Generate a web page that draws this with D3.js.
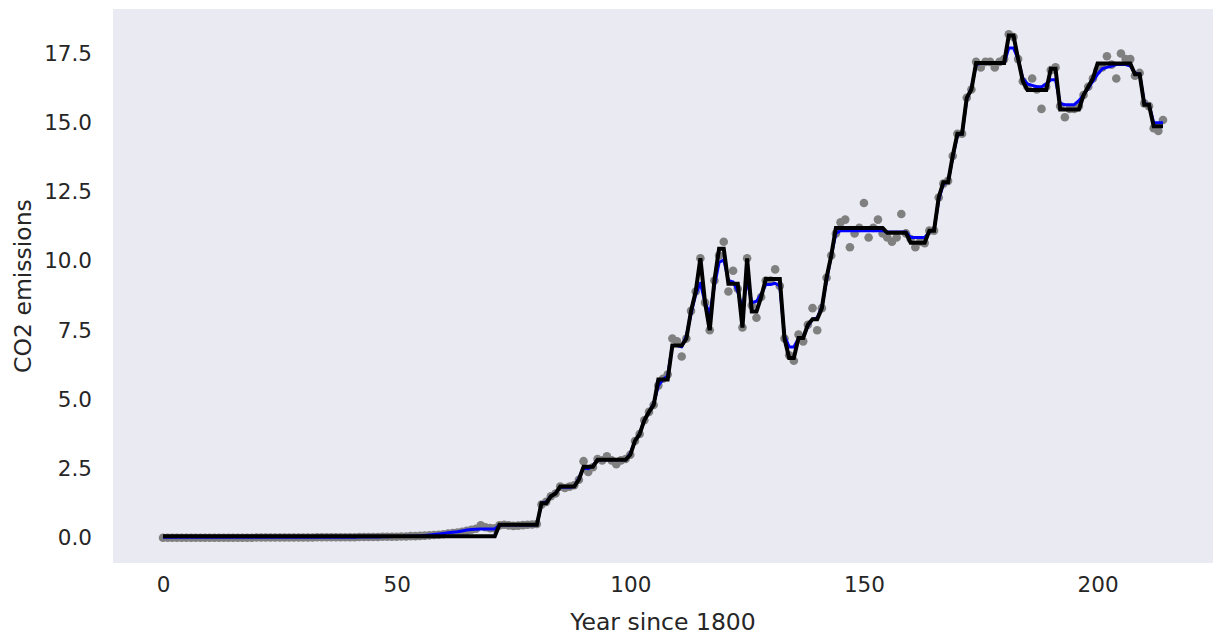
<!DOCTYPE html>
<html>
<head>
<meta charset="utf-8">
<script src="https://cdn.jsdelivr.net/npm/d3@7"></script>
<style>
  html, body { margin: 0; padding: 0; background: #ffffff; }
  svg text { font-family: "DejaVu Sans", sans-serif; fill: #262626; }
</style>
</head>
<body>
<svg id="chart" width="1219" height="635"></svg>
<script>
// Per-capita CO2 emissions, one value per year counted from 1800
const emissions = [
  0.00,0.00,0.00,0.00,0.00,0.00,0.00,0.00,0.00,0.00,
  0.00,0.00,0.00,0.00,0.00,0.00,0.00,0.00,0.00,0.00,
  0.01,0.01,0.01,0.01,0.01,0.01,0.01,0.01,0.01,0.01,
  0.01,0.01,0.01,0.02,0.02,0.02,0.02,0.02,0.02,0.02,
  0.02,0.02,0.03,0.03,0.03,0.03,0.03,0.04,0.04,0.04,
  0.04,0.05,0.05,0.06,0.06,0.07,0.08,0.09,0.10,0.11,
  0.13,0.15,0.17,0.19,0.22,0.25,0.29,0.33,0.45,0.38,
  0.35,0.34,0.45,0.47,0.45,0.43,0.44,0.46,0.47,0.48,
  0.50,1.20,1.30,1.50,1.60,1.85,1.80,1.85,1.90,2.10,
  2.77,2.38,2.55,2.85,2.80,2.95,2.80,2.66,2.80,2.85,
  3.00,3.50,3.75,4.25,4.55,4.80,5.50,5.75,5.90,7.20,
  7.10,6.55,7.20,8.20,8.90,10.10,8.50,7.50,9.30,10.20,
  10.70,8.90,9.65,9.00,7.60,10.10,8.40,7.95,8.70,9.30,
  9.30,9.70,9.10,7.20,6.60,6.40,7.35,7.10,7.70,8.30,
  7.50,8.30,9.40,10.20,11.00,11.40,11.50,10.50,11.00,11.20,
  12.10,10.85,11.20,11.50,11.00,10.85,10.70,10.85,11.70,11.00,
  10.80,10.50,10.70,10.65,11.10,11.10,12.30,12.80,12.90,13.80,
  14.60,14.60,15.90,16.20,17.20,17.00,17.20,17.20,17.00,17.20,
  17.30,18.20,18.10,17.30,16.50,16.30,16.60,16.20,15.50,16.30,
  16.90,17.00,15.60,15.20,15.50,15.50,15.60,16.00,16.30,16.60,
  16.90,17.00,17.40,17.10,16.60,17.50,17.30,17.30,16.70,16.80,
  15.70,15.60,14.80,14.70,15.10
];

// Random-forest prediction for each year
const forestFit = [
  0.02,0.02,0.02,0.02,0.02,0.02,0.02,0.02,0.02,0.02,
  0.02,0.02,0.02,0.02,0.02,0.02,0.02,0.02,0.02,0.02,
  0.02,0.02,0.02,0.02,0.02,0.02,0.02,0.02,0.02,0.02,
  0.02,0.02,0.02,0.02,0.02,0.02,0.02,0.02,0.02,0.02,
  0.02,0.02,0.03,0.03,0.03,0.03,0.03,0.04,0.04,0.05,
  0.05,0.05,0.06,0.06,0.07,0.07,0.08,0.10,0.12,0.14,
  0.16,0.18,0.20,0.22,0.25,0.28,0.30,0.31,0.32,0.32,
  0.32,0.32,0.46,0.46,0.46,0.46,0.46,0.46,0.46,0.46,
  0.47,1.25,1.30,1.50,1.62,1.83,1.83,1.83,1.85,2.15,
  2.55,2.50,2.60,2.82,2.82,2.82,2.82,2.82,2.82,2.82,
  3.05,3.50,3.75,4.25,4.55,4.85,5.50,5.72,5.85,6.95,
  6.95,6.90,7.30,8.10,8.80,9.20,8.50,8.10,9.10,9.95,
  10.05,9.30,9.25,8.90,8.30,9.30,8.50,8.55,8.80,9.15,
  9.15,9.20,9.10,7.30,6.90,6.90,7.20,7.25,7.65,7.90,
  7.95,8.35,9.30,10.20,11.00,11.10,11.10,11.10,11.10,11.10,
  11.10,11.10,11.10,11.10,11.10,11.05,11.05,11.05,11.05,11.05,
  10.85,10.85,10.85,10.85,11.05,11.15,12.20,12.80,12.85,13.75,
  14.55,14.60,15.85,16.25,17.10,17.15,17.15,17.15,17.15,17.15,
  17.15,17.70,17.70,17.30,16.60,16.40,16.35,16.30,16.30,16.40,
  16.55,16.55,15.70,15.65,15.65,15.65,15.80,16.00,16.25,16.50,
  16.75,16.95,17.00,17.05,17.10,17.10,17.10,17.05,16.80,16.75,
  15.70,15.65,15.00,15.00,15.00
];

// Single decision-tree prediction for each year
const treeFit = [
  0.06,0.06,0.06,0.06,0.06,0.06,0.06,0.06,0.06,0.06,
  0.06,0.06,0.06,0.06,0.06,0.06,0.06,0.06,0.06,0.06,
  0.06,0.06,0.06,0.06,0.06,0.06,0.06,0.06,0.06,0.06,
  0.06,0.06,0.06,0.06,0.06,0.06,0.06,0.06,0.06,0.06,
  0.06,0.06,0.06,0.06,0.06,0.06,0.06,0.06,0.06,0.06,
  0.06,0.06,0.06,0.06,0.06,0.06,0.06,0.06,0.06,0.06,
  0.06,0.06,0.06,0.06,0.06,0.06,0.06,0.06,0.06,0.06,
  0.06,0.06,0.47,0.47,0.47,0.47,0.47,0.47,0.47,0.47,
  0.47,1.25,1.25,1.50,1.60,1.85,1.85,1.85,1.85,2.10,
  2.57,2.57,2.57,2.82,2.82,2.82,2.82,2.82,2.82,2.82,
  3.00,3.50,3.75,4.25,4.55,4.80,5.72,5.72,5.72,6.95,
  6.95,6.95,7.20,8.20,8.90,10.10,8.50,7.50,9.30,10.45,
  10.45,9.18,9.18,9.18,7.60,10.10,8.18,8.18,8.70,9.35,
  9.35,9.35,9.35,7.20,6.50,6.50,7.22,7.22,7.70,7.90,
  7.90,8.30,9.40,10.20,11.20,11.20,11.20,11.20,11.20,11.20,
  11.20,11.20,11.20,11.20,11.20,11.02,11.02,11.02,11.02,11.02,
  10.66,10.66,10.66,10.66,11.10,11.10,12.30,12.85,12.85,13.80,
  14.60,14.60,15.90,16.20,17.16,17.16,17.16,17.16,17.16,17.16,
  17.16,18.15,18.15,17.30,16.50,16.18,16.18,16.18,16.18,16.18,
  16.95,16.95,15.48,15.48,15.48,15.48,15.48,16.00,16.30,16.60,
  17.14,17.14,17.14,17.14,17.14,17.14,17.14,17.14,16.75,16.75,
  15.65,15.65,14.87,14.87,14.87
];

const years = emissions.map((_, i) => i);
const xTicks = [0, 50, 100, 150, 200];
const yTicks = [0, 2.5, 5, 7.5, 10, 12.5, 15, 17.5];

const svg = d3.select("#chart");
const plot = { left: 113, right: 1213, top: 9, bottom: 563 };

// 5% padding on both axes, like the default autoscale margins
function padded(extent) {
  const p = (extent[1] - extent[0]) * 0.05;
  return [extent[0] - p, extent[1] + p];
}
const x = d3.scaleLinear()
  .domain(padded(d3.extent(years)))
  .range([plot.left, plot.right]);
const allValues = emissions.concat(forestFit, treeFit);
const y = d3.scaleLinear()
  .domain(padded(d3.extent(allValues)))
  .range([plot.bottom, plot.top]);

// Plot background
svg.append("rect")
  .attr("x", plot.left).attr("y", plot.top)
  .attr("width", plot.right - plot.left)
  .attr("height", plot.bottom - plot.top)
  .attr("fill", "#eaeaf2");

// Observed values
svg.append("g")
  .selectAll("circle")
  .data(years)
  .join("circle")
  .attr("cx", d => x(d))
  .attr("cy", d => y(emissions[d]))
  .attr("r", 4.3)
  .attr("fill", "#808080");

const line = series => d3.line()
  .x(d => x(d))
  .y(d => y(series[d]));

svg.append("path")
  .datum(years)
  .attr("d", line(forestFit))
  .attr("fill", "none")
  .attr("stroke", "#0000ff")
  .attr("stroke-width", 3)
  .attr("stroke-linejoin", "round");

svg.append("path")
  .datum(years)
  .attr("d", line(treeFit))
  .attr("fill", "none")
  .attr("stroke", "#000000")
  .attr("stroke-width", 4)
  .attr("stroke-linejoin", "miter");

// Axes without tick marks or spines
const xAxis = svg.append("g")
  .attr("transform", `translate(0,${plot.bottom})`)
  .call(d3.axisBottom(x).tickValues(xTicks).tickSize(0).tickPadding(14)
    .tickFormat(d3.format("d")));
const yAxis = svg.append("g")
  .attr("transform", `translate(${plot.left},0)`)
  .call(d3.axisLeft(y).tickValues(yTicks).tickSize(0).tickPadding(21)
    .tickFormat(d3.format(".1f")));
[xAxis, yAxis].forEach(g => {
  g.select(".domain").remove();
  g.selectAll("text")
    .style("font-family", "'DejaVu Sans', sans-serif")
    .style("font-size", "21.5px")
    .attr("fill", "#262626");
});

svg.append("text")
  .attr("x", (plot.left + plot.right) / 2)
  .attr("y", 630)
  .attr("text-anchor", "middle")
  .style("font-size", "23.5px")
  .text("Year since 1800");

svg.append("text")
  .attr("transform", `translate(30.5,${(plot.top + plot.bottom) / 2}) rotate(-90)`)
  .attr("text-anchor", "middle")
  .style("font-size", "23.5px")
  .text("CO2 emissions");
</script>
</body>
</html>
